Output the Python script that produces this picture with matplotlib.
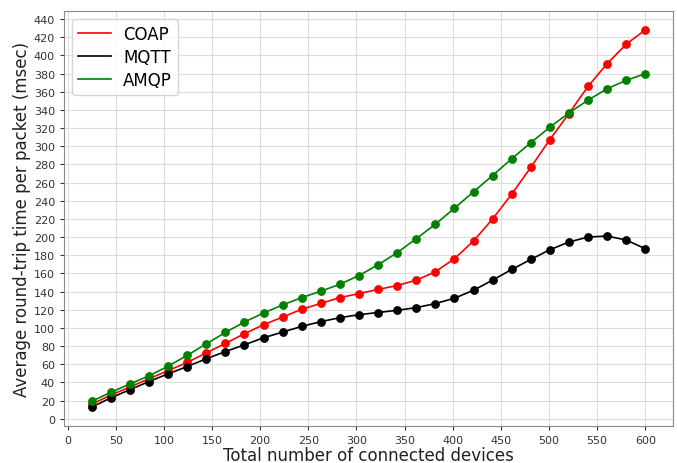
import numpy as np
import matplotlib.pyplot as plt

# number of connected devices (30 runs from 25 up to 600)
devices = np.linspace(25, 600, 30)

# average round-trip time per packet, msec
coap = [16, 26, 35, 44, 53, 62, 72.5, 83, 93.6, 103.5,
        112, 120.5, 127, 133.4, 137.8, 142.4, 146.7, 152.6, 161.8, 176.2,
        195.7, 220, 247.3, 276.8, 307.4, 336.1, 366, 391, 412.4, 428.2]
mqtt = [12.8, 23, 32, 41, 49.4, 57.5, 66, 74, 81.4, 89.2,
        95.4, 101.7, 106.9, 111.3, 114.6, 117, 119.4, 122.4, 126.8, 132.7,
        141.5, 152.6, 164.4, 175.4, 186.1, 194.6, 200.1, 201.2, 196.8, 187.2]
amqp = [19.2, 29.1, 38.3, 47.2, 57.9, 69.7, 82.5, 95, 106.5, 116.4,
        125.3, 133.4, 140.4, 148.1, 157.7, 169.5, 182.8, 198.3, 214.1, 231.8,
        249.9, 267.8, 286.2, 304, 321, 336.8, 350.8, 363.4, 372.6, 380]

fig = plt.figure(figsize=(6.77, 4.64), dpi=100)
ax = fig.add_axes([64 / 677, 1 - 427 / 464, (673 - 64) / 677, (427 - 12) / 464])

ax.plot(devices, coap, color='red', lw=1.2, label='COAP')
ax.plot(devices, mqtt, color='black', lw=1.2, label='MQTT')
ax.plot(devices, amqp, color='green', lw=1.2, label='AMQP')
# markers drawn separately so the legend shows plain lines
ax.plot(devices, coap, 'o', color='red', ms=5.3)
ax.plot(devices, mqtt, 'o', color='black', ms=5.3)
ax.plot(devices, amqp, 'o', color='green', ms=5.3)

ax.set_xticks(np.arange(0, 601, 50))
ax.set_yticks(np.arange(0, 441, 20))
ax.tick_params(labelsize=8, colors='#333333', length=3)
ax.grid(True, color='#dddddd', lw=0.8)
ax.set_axisbelow(True)
for s in ax.spines.values():
    s.set_color('#888888')

ax.set_xlabel('Total number of connected devices', fontsize=12, color='#222222', labelpad=1)
ax.set_ylabel('Average round-trip time per packet (msec)', fontsize=12, color='#222222', labelpad=2)
ax.legend(loc='upper left', fontsize=12, handlelength=2.0, handletextpad=0.7,
          labelspacing=0.3, borderpad=0.35)

fig.savefig('out.png', dpi=100)
